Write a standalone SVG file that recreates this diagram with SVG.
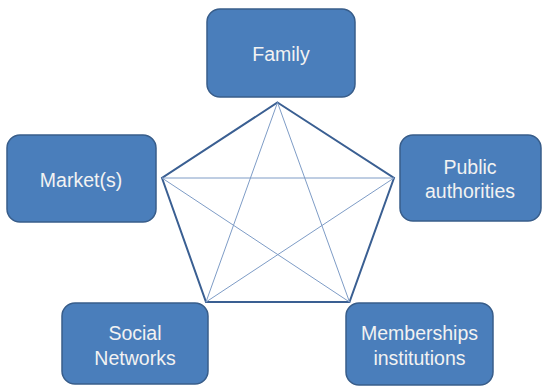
<svg xmlns="http://www.w3.org/2000/svg" width="544" height="387" viewBox="0 0 544 387">
<style>
.box{fill:#4A7EBB;stroke:#385D8A;stroke-width:1.5}
.lbl{font-family:"Liberation Sans",Arial,sans-serif;font-size:19.5px;fill:#F2F2F2;text-anchor:middle}
.outer{fill:none;stroke:#3A5F92;stroke-width:2;stroke-linejoin:miter}
.inner{stroke:#7E9CC6;stroke-width:1;fill:none}
</style>
<rect width="544" height="387" fill="#FFFFFF"/>
<g id="connectors">
<polygon class="outer" points="277.5,102.5 394,178 349.5,302 206,302 162,178"/>
<line class="inner" x1="162" y1="178" x2="394" y2="178"/>
<line class="inner" x1="277.5" y1="102.5" x2="206" y2="302"/>
<line class="inner" x1="277.5" y1="102.5" x2="349.5" y2="302"/>
<line class="inner" x1="162" y1="178" x2="349.5" y2="302"/>
<line class="inner" x1="394" y1="178" x2="206" y2="302"/>
</g>
<g id="family">
<rect class="box" x="207" y="9" width="148" height="88" rx="13"/>
<text class="lbl" x="281" y="61">Family</text>
</g>
<g id="markets">
<rect class="box" x="7" y="135" width="149" height="87" rx="13"/>
<text class="lbl" x="81" y="187">Market(s)</text>
</g>
<g id="public">
<rect class="box" x="400" y="135" width="141" height="86" rx="13"/>
<text class="lbl" x="470" y="174">Public</text>
<text class="lbl" x="470" y="198">authorities</text>
</g>
<g id="social">
<rect class="box" x="62" y="303" width="146" height="81" rx="13"/>
<text class="lbl" x="135" y="340">Social</text>
<text class="lbl" x="135" y="365">Networks</text>
</g>
<g id="memberships">
<rect class="box" x="346" y="303" width="147" height="82" rx="13"/>
<text class="lbl" x="419.5" y="340">Memberships</text>
<text class="lbl" x="419.5" y="365">institutions</text>
</g>
</svg>
